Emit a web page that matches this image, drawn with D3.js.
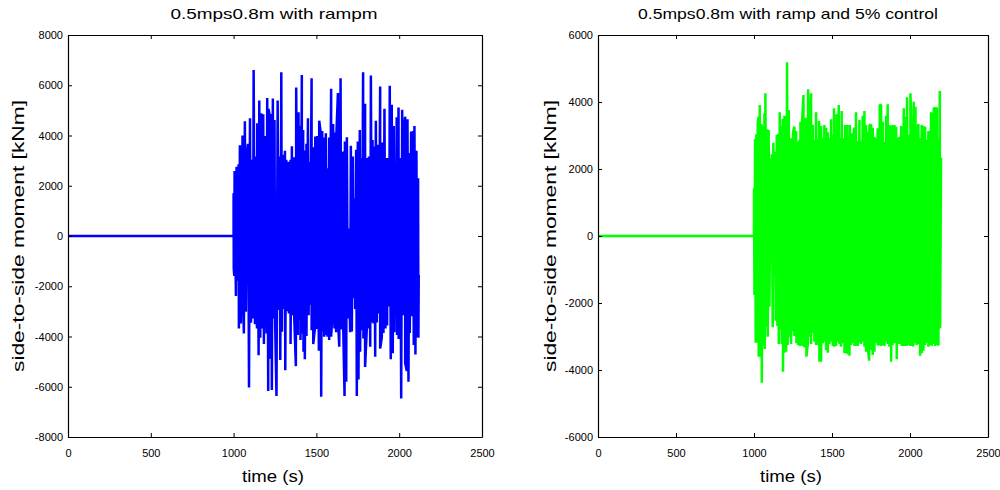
<!DOCTYPE html>
<html>
<head>
<meta charset="utf-8">
<script src="https://cdn.jsdelivr.net/npm/d3@7"></script>
<style>
  body { margin: 0; background: #fff; }
  svg { display: block; }
  text { font-family: "Liberation Sans", Arial, sans-serif; fill: #000; }
</style>
</head>
<body>
<svg id="chart" width="1000" height="490"></svg>
<script>
// tick values
const timeTicks = [0, 500, 1000, 1500, 2000, 2500];
const leftMomentTicks = [-8000, -6000, -4000, -2000, 0, 2000, 4000, 6000, 8000];
const rightMomentTicks = [-6000, -4000, -2000, 0, 2000, 4000, 6000];

// quiet part before the waves arrive (time s, moment kNm)
const quietTime = [0, 1000];
const quietMoment = [0, 0];

// left: "with rampm" -- peaks and troughs
const leftPeakTime = [1000,1006,1018,1030,1038,1054,1068,1081,1087,1099,1109,1121,1133,1143,1155,1167,1179,1187,1193,1203,
  1211,1219,1227,1237,1247,1266,1276,1288,1298,1310,1318,1332,1344,1352,1364,1378,1392,1404,1412,1420,
  1430,1440,1449,1461,1471,1481,1493,1505,1517,1525,1535,1545,1557,1565,1577,1589,1601,1611,1621,1630,
  1646,1660,1672,1684,1696,1708,1720,1730,1740,1750,1762,1772,1782,1794,1806,1817,1829,1839,1849,1859,
  1871,1885,1897,1911,1921,1931,1943,1955,1967,1977,1985,1996,2006,2018,2028,2036,2050,2062,2072,2084,
  2092,2104,2114];
const leftPeakMoment = [1700,2590,2760,2860,3610,4000,4570,3300,3670,4690,3030,6610,3160,4490,5390,4890,4850,3980,2460,5490,
  5060,4750,4860,5470,4620,5390,3160,6520,3230,3390,3030,2960,3030,3570,3130,5910,4930,4390,6410,4220,
  3400,3670,4690,2960,6280,3530,3960,3980,4590,4160,4180,3920,4090,2700,3920,5860,4460,4120,4120,5690,
  6280,3360,3760,3930,300,3590,3160,1500,3430,3760,4220,3100,6520,5260,3100,3160,6390,3820,3560,4590,
  3630,5950,3720,5060,3100,3100,5980,5220,4380,2500,4730,5110,3100,5020,4220,4750,4650,3300,4160,4180,
  4380,3390,2300];
const leftTroughTime = [1001,1004,1014,1026,1032,1044,1056,1062,1074,1093,1105,1117,1129,1141,1151,1161,1171,1183,1194,1199,
  1209,1219,1231,1241,1251,1259,1272,1282,1292,1302,1312,1324,1334,1344,1356,1366,1376,1388,1398,1404,
  1412,1422,1430,1440,1453,1461,1471,1481,1491,1503,1515,1529,1537,1547,1557,1567,1577,1589,1599,1609,
  1619,1630,1638,1650,1660,1670,1680,1690,1696,1704,1714,1724,1734,1744,1754,1764,1774,1784,1794,1804,
  1815,1825,1835,1845,1855,1865,1877,1885,1895,1905,1917,1927,1939,1949,1961,1971,1977,1987,1997,2012,
  2024,2036,2046,2056,2064,2074,2080,2088,2098,2108,2116,2118];
const leftTroughMoment = [-1290,-1590,-2390,-1790,-3680,-3480,-1990,-3880,-3010,-6030,-3450,-3280,-3510,-3680,-4750,-4050,-3680,-4300,-320,-3880,
  -6170,-4890,-6130,-3280,-3510,-6370,-2950,-4940,-3810,-2910,-5340,-2990,-3080,-4300,-3150,-3190,-5180,-3940,-3350,-4140,
  -3880,-4610,-4910,-3980,-3150,-2750,-3750,-4300,-3680,-3700,-4570,-6400,-3810,-4010,-3940,-4010,-4140,-4010,-2820,-3680,
  -3830,-3280,-4410,-3720,-2970,-6370,-5800,-3280,-1290,-3830,-3800,-2480,-2910,-6370,-5710,-4610,-3750,-4080,-5210,-3750,
  -3680,-4410,-3440,-3480,-4810,-3440,-3080,-4480,-4030,-3860,-3680,-3560,-2810,-4910,-4670,-3830,-2350,-3940,-4100,-6470,
  -3150,-5050,-5370,-5800,-3860,-1000,-3190,-4340,-4720,-4030,-4050,-1550];

// right: "with ramp and 5% control"
const rightPeakTime = [1000,1007,1015,1024,1030,1037,1047,1058,1067,1073,1084,1094,1105,1114,1124,1135,1146,1154,1165,1174,
  1184,1195,1201,1212,1223,1233,1244,1250,1259,1270,1280,1291,1298,1308,1317,1327,1336,1347,1357,1366,
  1377,1387,1398,1409,1417,1430,1441,1451,1462,1473,1483,1494,1505,1513,1522,1530,1543,1554,1562,1573,
  1584,1597,1605,1614,1624,1635,1644,1654,1665,1676,1686,1697,1708,1718,1729,1740,1751,1761,1772,1783,
  1793,1806,1815,1825,1836,1847,1857,1868,1879,1889,1900,1911,1922,1932,1943,1954,1960,1971,1981,1992,
  2003,2011,2024,2035,2045,2054,2065,2075,2086,2097,2107,2118,2129,2135,2144,2152,2161,2172,2182,2191,
  2199];
const rightPeakMoment = [1423,2896,3035,3393,3562,3910,3343,3284,3661,4259,3184,3164,2318,2438,2786,2517,3015,3045,3692,3284,
  3493,3592,3513,5184,3761,2915,2915,3085,3264,3134,2816,2866,3413,3413,4209,3493,3493,4378,3194,4259,
  3313,2866,3692,2885,3443,3284,2915,3313,3234,3095,2915,3483,3015,3811,2985,3632,3910,2915,3731,2915,
  3313,3313,2935,3313,3065,2915,3234,3692,2836,3463,2836,3592,3731,3313,3115,3313,3313,3234,2965,2915,
  3214,3910,3910,3413,2816,3592,3930,3313,3284,3313,3313,3264,2935,2965,3284,2965,3811,3562,4139,3015,
  4259,2915,4010,3861,2915,3343,2915,3313,3284,3264,2866,3134,3134,3692,3632,3811,3811,3841,2866,4328,
  2338];
const rightTroughTime = [1003,1011,1020,1030,1037,1045,1050,1060,1069,1080,1088,1099,1112,1120,1131,1139,1150,1159,1167,1178,
  1186,1195,1206,1216,1227,1238,1248,1259,1272,1283,1293,1304,1317,1325,1336,1345,1355,1366,1377,1387,
  1398,1409,1419,1430,1441,1451,1462,1473,1483,1494,1505,1515,1526,1537,1548,1558,1569,1580,1590,1601,
  1612,1622,1633,1644,1654,1665,1676,1686,1697,1708,1718,1729,1738,1751,1761,1772,1783,1793,1804,1815,
  1825,1836,1847,1857,1868,1879,1889,1900,1915,1926,1936,1947,1958,1968,1979,1990,2001,2011,2022,2033,
  2043,2054,2065,2075,2086,2097,2107,2118,2129,2139,2150,2161,2172,2182,2193];
const rightTroughMoment = [-1761,-3184,-3184,-3602,-3254,-3602,-4378,-3254,-3373,-2706,-3005,-2110,-816,-2726,-1194,-2527,-2687,-3224,-2806,-3224,
  -4050,-3483,-3453,-3254,-3005,-3224,-2836,-2985,-3204,-3254,-3284,-3274,-3254,-3303,-3602,-3224,-3005,-3224,-2886,-3154,
  -3254,-3254,-3751,-3751,-3204,-3154,-3403,-3483,-3234,-3154,-3284,-3303,-3284,-3154,-3224,-3303,-3204,-3502,-3502,-3532,
  -3572,-3254,-3204,-3284,-3274,-3284,-3184,-3224,-3154,-3303,-3453,-3303,-3721,-3403,-3552,-3453,-3184,-3254,-3224,-3284,
  -3254,-3284,-3154,-3224,-3303,-3751,-3254,-3204,-3681,-3224,-3224,-3284,-3284,-3284,-3284,-3254,-3284,-3224,-3284,-3204,
  -3254,-3224,-3572,-3502,-3423,-3254,-3184,-3303,-3254,-3284,-3224,-3284,-3254,-3274,-2756];

const svg = d3.select('#chart');
const fontFamily = '"Liberation Sans", Arial, sans-serif';

function series(peakT, peakV, troughT, troughV) {
  const pts = quietTime.map((t, i) => ({ t: t, v: quietMoment[i] }));
  const wave = peakT.map((t, i) => ({ t: t, v: peakV[i], k: 0 }))
    .concat(troughT.map((t, i) => ({ t: t, v: troughV[i], k: 1 })));
  wave.sort((a, b) => a.t - b.t || a.k - b.k);
  return pts.concat(wave);
}

function drawPanel(opt) {
  const x = d3.scaleLinear().domain([0, 2500]).range([opt.left, opt.right]);
  const y = d3.scaleLinear().domain(opt.yDomain).range([437, 35]);

  const g = svg.append('g');

  g.append('path')
    .datum(opt.data)
    .attr('fill', 'none')
    .attr('stroke', opt.color)
    .attr('stroke-width', 2.5)
    .attr('stroke-linejoin', 'bevel')
    .attr('d', d3.line().x(d => x(d.t)).y(d => y(d.v)));

  const styleAxis = sel => {
    sel.select('.domain').attr('stroke', '#000').attr('stroke-width', 1.2);
    sel.selectAll('.tick line').attr('stroke', '#000');
    sel.selectAll('text').attr('font-family', fontFamily).attr('font-size', 11).attr('fill', '#000');
  };

  g.append('g')
    .attr('transform', 'translate(0,437)')
    .call(d3.axisBottom(x).tickValues(timeTicks).tickSizeInner(-4).tickSizeOuter(0).tickPadding(12).tickFormat(d => String(d)))
    .call(styleAxis);
  g.append('g')
    .attr('transform', 'translate(0,35)')
    .call(d3.axisTop(x).tickValues(timeTicks).tickSizeInner(-4).tickSizeOuter(0).tickFormat(''))
    .call(styleAxis);
  g.append('g')
    .attr('transform', `translate(${opt.left},0)`)
    .call(d3.axisLeft(y).tickValues(opt.yTicks).tickSizeInner(-4).tickSizeOuter(0).tickPadding(5).tickFormat(d => String(d)))
    .call(styleAxis);
  g.append('g')
    .attr('transform', `translate(${opt.right},0)`)
    .call(d3.axisRight(y).tickValues(opt.yTicks).tickSizeInner(-4).tickSizeOuter(0).tickFormat(''))
    .call(styleAxis);

  g.append('text')
    .attr('x', opt.titleX).attr('y', 19)
    .attr('text-anchor', 'middle')
    .attr('font-size', 15)
    .attr('textLength', opt.titleLen).attr('lengthAdjust', 'spacingAndGlyphs')
    .text(opt.title);

  g.append('text')
    .attr('x', opt.xLabelX).attr('y', 482)
    .attr('text-anchor', 'middle')
    .attr('font-size', 16)
    .attr('textLength', 62).attr('lengthAdjust', 'spacingAndGlyphs')
    .text('time (s)');

  g.append('text')
    .attr('transform', `translate(${opt.yLabelX},236) rotate(-90)`)
    .attr('text-anchor', 'middle')
    .attr('font-size', 16)
    .attr('textLength', 272).attr('lengthAdjust', 'spacingAndGlyphs')
    .text('side-to-side moment [kNm]');
}

drawPanel({
  left: 68, right: 482,
  yDomain: [-8000, 8000], yTicks: leftMomentTicks,
  color: '#0000ff',
  data: series(leftPeakTime, leftPeakMoment, leftTroughTime, leftTroughMoment),
  title: '0.5mps0.8m with rampm', titleX: 274, titleLen: 207,
  xLabelX: 273, yLabelX: 24
});

drawPanel({
  left: 598, right: 988,
  yDomain: [-6000, 6000], yTicks: rightMomentTicks,
  color: '#00ff00',
  data: series(rightPeakTime, rightPeakMoment, rightTroughTime, rightTroughMoment),
  title: '0.5mps0.8m with ramp and 5% control', titleX: 788, titleLen: 300,
  xLabelX: 791, yLabelX: 556
});
</script>
</body>
</html>
